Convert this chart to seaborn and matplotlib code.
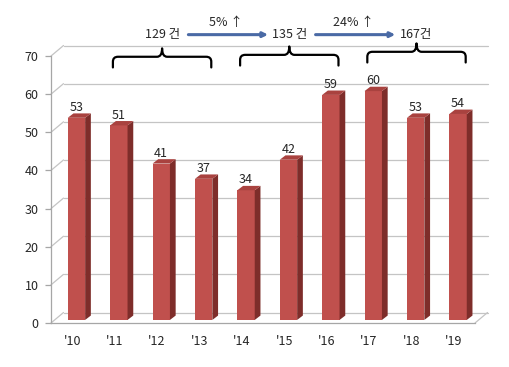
import seaborn as sns
import matplotlib.pyplot as plt
from matplotlib.patches import Polygon, PathPatch
from matplotlib.path import Path

# chart data
years = ["'10", "'11", "'12", "'13", "'14", "'15", "'16", "'17", "'18", "'19"]
counts = [53, 51, 41, 37, 34, 42, 59, 60, 53, 54]

# period groups shown with braces
group_start = [1, 4, 7]
group_end = [3, 6, 9]
group_labels = ['129 건', '135 건', '167건']
growth_labels = ['5% ↑', '24% ↑']

# colours
front_col = '#c0504d'
side_col = '#7e2d2a'
top_col = '#a9423f'
grid_col = '#c4c4c4'
axis_col = '#a6a6a6'
arrow_col = '#4a6aa5'

sns.set_style("white")
plt.rcParams['font.family'] = ['Noto Sans CJK KR', 'DejaVu Sans']

fig = plt.figure(figsize=(5.1, 3.67), dpi=100)
ax = fig.add_axes([0.1, 0.1199, 0.8314, 0.7275])

sns.barplot(x=years, y=counts, color=front_col, saturation=1, width=0.41,
            linewidth=0, ax=ax, zorder=3)

ax.set_xlim(-0.5, 9.5)
ax.set_ylim(0, 70)

# pseudo 3d depth (data units)
wall_dx, wall_dy = 0.295, 2.75
bar_dx, bar_dy = 0.135, 1.15
lift = 0.8
x0, x1 = ax.get_xlim()

# back wall gridlines + left wall slants
for yv in range(0, 71, 10):
    ax.plot([x0 + wall_dx, x1 + wall_dx], [yv + wall_dy, yv + wall_dy],
            color=grid_col, lw=0.9, zorder=0, clip_on=False)
    ax.plot([x0, x0 + wall_dx], [yv, yv + wall_dy],
            color=grid_col, lw=0.9, zorder=0, clip_on=False)
ax.plot([x1, x1 + wall_dx], [0, wall_dy], color=grid_col, lw=0.9,
        zorder=0, clip_on=False)

# bar side and top faces
for p in ax.patches[:len(counts)]:
    p.set_x(p.get_x() + 0.1)
    p.set_y(p.get_y() + lift)
    bx0 = p.get_x()
    bx1 = bx0 + p.get_width()
    by0 = p.get_y()
    by1 = by0 + p.get_height()
    ax.add_patch(Polygon([(bx1, by0), (bx1 + bar_dx, by0 + bar_dy),
                          (bx1 + bar_dx, by1 + bar_dy), (bx1, by1)],
                         closed=True, fc=side_col, ec='none', zorder=3))
    ax.add_patch(Polygon([(bx0, by1), (bx0 + bar_dx, by1 + bar_dy),
                          (bx1 + bar_dx, by1 + bar_dy), (bx1, by1)],
                         closed=True, fc=top_col, ec='none', zorder=3))
    ax.text(bx0 + p.get_width() / 2, p.get_height() + 2.6,
            f"{p.get_height():.0f}", ha='center', va='baseline', fontsize=9)

# axes styling
for s in ['top', 'right']:
    ax.spines[s].set_visible(False)
for s in ['left', 'bottom']:
    ax.spines[s].set_color(axis_col)
    ax.spines[s].set_linewidth(0.9)
ax.set_yticks(range(0, 71, 10))
ax.set_xticks([i + 0.5 for i in range(-1, len(years))], minor=True)
ax.tick_params(axis='x', which='major', length=0, pad=9, labelsize=9)
ax.tick_params(axis='x', which='minor', length=4, color=axis_col, width=0.9,
               direction='out')
ax.tick_params(axis='y', length=4, color=axis_col, width=0.9, pad=5,
               labelsize=9, direction='out', left=True)
ax.set_xlabel('')
ax.set_ylabel('')


def draw_brace(xl, xr, ymid, ytip, yend):
    xc = (xl + xr) / 2
    rx, ry = 0.12, 1.3
    verts = [(xl, yend), (xl, ymid - ry), (xl, ymid), (xl + rx, ymid),
             (xc - rx, ymid), (xc, ymid), (xc, ytip),
             (xc, ymid), (xc + rx, ymid),
             (xr - rx, ymid), (xr, ymid), (xr, ymid - ry), (xr, yend)]
    codes = [Path.MOVETO, Path.LINETO, Path.CURVE3, Path.CURVE3,
             Path.LINETO, Path.CURVE3, Path.CURVE3,
             Path.CURVE3, Path.CURVE3,
             Path.LINETO, Path.CURVE3, Path.CURVE3, Path.LINETO]
    ax.add_patch(PathPatch(Path(verts, codes), fc='none', ec='black', lw=1.6,
                           clip_on=False, capstyle='round', joinstyle='round'))
    return xc


brace_y = [69.8, 70.3, 71.1]
centers = []
for s, e, lab, by in zip(group_start, group_end, group_labels, brace_y):
    xc = draw_brace(s - 0.04, e + 0.28, by, by + 2.2, by - 2.8)
    centers.append(xc)
    ax.text(xc, 75.6, lab, ha='center', va='center', fontsize=9,
            clip_on=False)

for i, lab in enumerate(growth_labels):
    ca, cb = centers[i], centers[i + 1]
    ax.annotate('', xy=(cb - 0.5, 75.6), xytext=(ca + 0.62, 75.6),
                arrowprops=dict(arrowstyle='-|>', color=arrow_col, lw=2.2,
                                mutation_scale=7, shrinkA=0, shrinkB=0),
                annotation_clip=False)
    ax.text((ca + cb) / 2, 78.8, lab, ha='center', va='center', fontsize=9,
            clip_on=False)

plt.savefig('out.png', dpi=100)
